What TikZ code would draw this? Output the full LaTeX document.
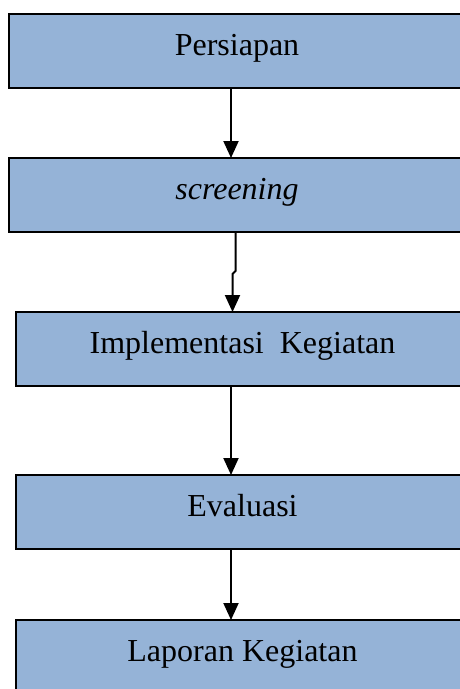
\documentclass[tikz,border=0pt]{standalone}
\usepackage{fontspec}
\setmainfont{Liberation Serif}
\usetikzlibrary{arrows.meta, positioning}
\definecolor{boxblue}{HTML}{95B3D7}

\tikzset{
    stagebox/.style={draw, line width=2pt, fill=boxblue, anchor=north west, inner sep=0pt, outer sep=0pt,
        minimum height=74pt, text height=41pt, text depth=33pt, font=\fontsize{32}{38}\selectfont},
    flowarrow/.style={line width=2pt, -{Triangle[width=15pt, length=17pt]}}
}

\begin{document}
\begin{tikzpicture}[x=1pt, y=-1pt]
    \clip (0, 0) rectangle (460, 689);
    \fill[white] (0, 0) rectangle (460, 689);

    % stages
    \node[stagebox, minimum width=457pt] (prep) at (8.5, 14) {Persiapan};
    \node[stagebox, minimum width=457pt] (screen) at (8.5, 158) {\itshape screening};
    \node[stagebox, minimum width=454pt] (impl) at (15.5, 312) {Implementasi\ \ Kegiatan};
    \node[stagebox, minimum width=454pt] (eval) at (15.5, 475) {Evaluasi};
    \node[stagebox, minimum width=454pt] (report) at (15.5, 620) {Laporan Kegiatan};

    % arrows
    \coordinate (ax) at (231, 0);
    \coordinate (bx) at (235.5, 0);
    \coordinate (jog) at (235.5, 271);
    \coordinate (jog2) at (232.5, 274);
    \draw[flowarrow] (prep.south -| ax) -- (screen.north -| ax);
    \draw[flowarrow] (screen.south -| bx) -- (jog) -- (jog2) -- (impl.north -| jog2);
    \draw[flowarrow] (impl.south -| ax) -- (eval.north -| ax);
    \draw[flowarrow] (eval.south -| ax) -- (report.north -| ax);
\end{tikzpicture}
\end{document}
